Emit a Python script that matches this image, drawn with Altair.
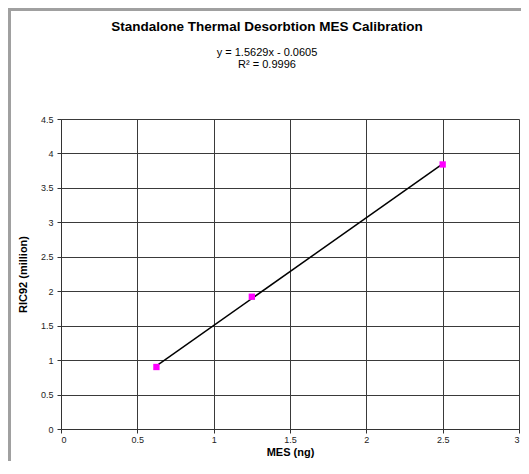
import altair as alt
import pandas as pd

mes_ng = [0.625, 1.25, 2.5]
ric92_million = [0.90, 1.92, 3.84]

title_text = "Standalone Thermal Desorbtion MES Calibration"
equation_lines = ["y = 1.5629x - 0.0605", "R² = 0.9996"]
x_ticks = [0, 0.5, 1, 1.5, 2, 2.5, 3]
y_ticks = [0, 0.5, 1, 1.5, 2, 2.5, 3, 3.5, 4, 4.5]

df = pd.DataFrame({"x": mes_ng, "y": ric92_million})
title_df = pd.DataFrame({"t": [title_text]})
eq1_df = pd.DataFrame({"t": [equation_lines[0]]})
eq2_df = pd.DataFrame({"t": [equation_lines[1]]})

FONT = "Liberation Sans"
W, H = 458, 310

base = alt.Chart(df)

xscale = alt.Scale(domain=[0, 3], nice=False)
yscale = alt.Scale(domain=[0, 4.5], nice=False)

xax = alt.Axis(values=x_ticks, grid=True, gridColor="#3a3a3a", gridWidth=1,
               domainColor="#333333", tickColor="#333333", tickSize=4,
               labelFont=FONT, labelFontSize=9, labelColor="#222222", labelPadding=2,
               labelOverlap=False, format="~g",
               title="MES (ng)", titleFont=FONT, titleFontSize=11, titleFontWeight="bold",
               titleColor="#000000", titlePadding=2)
yax = alt.Axis(values=y_ticks, grid=True, gridColor="#3a3a3a", gridWidth=1,
               domainColor="#333333", tickColor="#333333", tickSize=4,
               labelFont=FONT, labelFontSize=9, labelColor="#222222", labelPadding=4,
               labelOverlap=False, format="~g",
               title="RIC92 (million)", titleFont=FONT, titleFontSize=11, titleFontWeight="bold",
               titleColor="#000000", titlePadding=12)

trend = base.transform_regression("x", "y").mark_line(color="#000000", strokeWidth=1.5).encode(
    x=alt.X("x:Q", scale=xscale, axis=xax),
    y=alt.Y("y:Q", scale=yscale, axis=yax),
)

pts = base.mark_square(color="#ff00ff", size=40, opacity=1).encode(
    x=alt.X("x:Q", scale=xscale, axis=xax),
    y=alt.Y("y:Q", scale=yscale, axis=yax),
)

# decorative outer frame (left and top edges)
frame_left = base.mark_rule(color="#a0a0a0", strokeWidth=3).encode(
    x=alt.value(-51.5), y=alt.value(-109.5), y2=alt.value(342)
)
frame_top = base.mark_rule(color="#a0a0a0", strokeWidth=3).encode(
    x=alt.value(-53), x2=alt.value(460), y=alt.value(-109.5)
)

title_mark = alt.Chart(title_df).mark_text(
    font=FONT, fontSize=13.5, fontWeight="bold", color="#000000", align="center", baseline="alphabetic"
).encode(text="t:N", x=alt.value(206), y=alt.value(-88))
eq1_mark = alt.Chart(eq1_df).mark_text(
    font=FONT, fontSize=11, color="#000000", align="center", baseline="alphabetic"
).encode(text="t:N", x=alt.value(206), y=alt.value(-63))
eq2_mark = alt.Chart(eq2_df).mark_text(
    font=FONT, fontSize=11, color="#000000", align="center", baseline="alphabetic"
).encode(text="t:N", x=alt.value(206), y=alt.value(-51))

chart = alt.layer(frame_left, frame_top, trend, pts, title_mark, eq1_mark, eq2_mark).properties(
    width=W, height=H,
    padding={"left": 53, "top": 111, "right": 2, "bottom": 32},
    autosize=alt.AutoSizeParams(type="none"),
).configure_view(stroke=None).configure(background="white")

chart.save("out.html", embed_options={"renderer": "svg", "actions": False})
